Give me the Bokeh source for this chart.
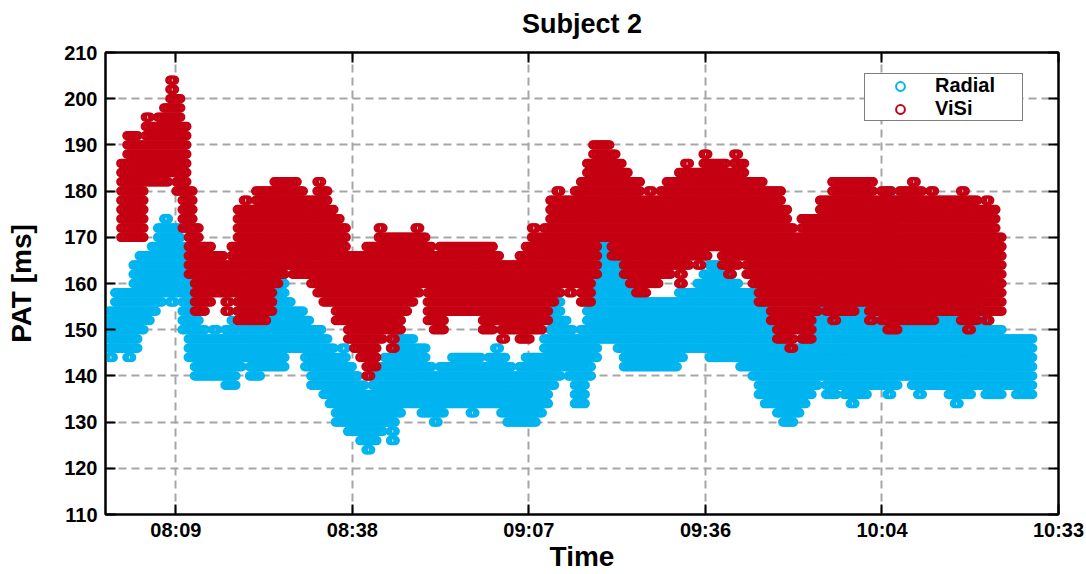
import numpy as np
from bokeh.plotting import figure
from bokeh.models import Range1d, FixedTicker, LinearAxis, Legend, LegendItem, ColumnDataSource
from bokeh.embed import file_html
from bokeh.resources import INLINE

title_text = "Subject 2"
x_label = "Time"
y_label = "PAT [ms]"
series_names = ["Radial", "ViSi"]

# x ticks in seconds since midnight (0.02-day steps) and their labels
x_tick_seconds = [29376, 31104, 32832, 34560, 36288, 38016]
x_tick_labels = ["08:09", "08:38", "09:07", "09:36", "10:04", "10:33"]
y_ticks = [110, 120, 130, 140, 150, 160, 170, 180, 190, 200, 210]

# Radial: per-minute bins (minutes since midnight), lowest / highest PAT seen [ms]
radial_minute = [479, 480, 481, 482, 483, 484, 485, 486, 487, 488, 489, 490, 491, 492, 493, 494, 495, 496, 497, 498,
                 499, 500, 501, 502, 503, 504, 505, 506, 507, 508, 509, 510, 511, 512, 513, 514, 515, 516, 517, 518,
                 519, 520, 521, 522, 523, 524, 525, 526, 527, 528, 529, 530, 531, 532, 533, 534, 535, 536, 537, 538,
                 539, 540, 541, 542, 543, 544, 545, 546, 547, 548, 549, 550, 551, 552, 553, 554, 555, 556, 557, 558,
                 559, 560, 561, 562, 563, 564, 565, 566, 567, 568, 569, 570, 571, 572, 573, 574, 575, 576, 577, 578,
                 579, 580, 581, 582, 583, 584, 585, 586, 587, 588, 589, 590, 591, 592, 593, 594, 595, 596, 597, 598,
                 599, 600, 601, 602, 603, 604, 605, 606, 607, 608, 609, 610, 611, 612, 613, 614, 615, 616, 617, 618,
                 619, 620, 621, 622, 623, 624, 625, 626, 627, 628, 629]
radial_low = [144, 146, 146, 144, 146, 150, 152, 154, 156, 158, 156, 158, 150, 144, 140, 140, 140, 140, 140, 138,
              138, 142, 144, 140, 140, 142, 142, 142, 142, 146, 146, 146, 142, 138, 138, 136, 134, 130, 130, 128,
              128, 126, 124, 126, 128, 130, 126, 132, 134, 134, 134, 132, 132, 130, 132, 134, 134, 134, 134, 132,
              134, 134, 134, 134, 132, 130, 130, 130, 130, 130, 132, 134, 138, 140, 142, 140, 134, 134, 140, 144,
              148, 148, 148, 146, 142, 142, 142, 142, 142, 142, 142, 142, 142, 144, 146, 146, 146, 146, 144, 144,
              144, 144, 144, 142, 142, 140, 136, 134, 134, 132, 130, 130, 132, 134, 136, 138, 140, 136, 136, 138,
              136, 134, 136, 136, 138, 138, 138, 136, 138, 140, 140, 138, 136, 138, 138, 138, 138, 136, 134, 136,
              136, 138, 138, 136, 136, 136, 138, 138, 136, 136, 136]
radial_high = [154, 158, 158, 158, 164, 166, 166, 168, 172, 174, 172, 172, 168, 162, 156, 150, 148, 150, 148, 150,
               152, 156, 158, 160, 160, 160, 160, 162, 164, 156, 154, 154, 152, 150, 150, 148, 146, 144, 146, 142,
               140, 138, 136, 140, 142, 144, 146, 148, 148, 148, 146, 146, 142, 140, 142, 142, 144, 144, 144, 144,
               144, 142, 144, 146, 144, 142, 140, 142, 144, 144, 144, 148, 154, 156, 152, 150, 148, 150, 154, 160,
               168, 168, 166, 164, 160, 158, 156, 156, 156, 156, 156, 156, 156, 158, 158, 158, 160, 162, 164, 164,
               162, 162, 160, 158, 158, 158, 156, 154, 152, 150, 146, 144, 146, 148, 150, 154, 156, 158, 160, 158,
               156, 156, 156, 158, 160, 172, 178, 180, 178, 160, 158, 158, 158, 158, 156, 156, 158, 158, 160, 158,
               156, 156, 156, 152, 150, 150, 148, 148, 148, 148, 148]

# ViSi: per-minute bins, lowest / highest PAT seen [ms]
visi_minute = [481, 482, 483, 484, 485, 486, 487, 488, 489, 490, 491, 492, 493, 494, 495, 496, 497, 498, 499, 500,
               501, 502, 503, 504, 505, 506, 507, 508, 509, 510, 511, 512, 513, 514, 515, 516, 517, 518, 519, 520,
               521, 522, 523, 524, 525, 526, 527, 528, 529, 530, 531, 532, 533, 534, 535, 536, 537, 538, 539, 540,
               541, 542, 543, 544, 545, 546, 547, 548, 549, 550, 551, 552, 553, 554, 555, 556, 557, 558, 559, 560,
               561, 562, 563, 564, 565, 566, 567, 568, 569, 570, 571, 572, 573, 574, 575, 576, 577, 578, 579, 580,
               581, 582, 583, 584, 585, 586, 587, 588, 589, 590, 591, 592, 593, 594, 595, 596, 597, 598, 599, 600,
               601, 602, 603, 604, 605, 606, 607, 608, 609, 610, 611, 612, 613, 614, 615, 616, 617, 618, 619, 620,
               621, 622, 623, 624]
visi_low = [170, 170, 170, 170, 182, 182, 182, 182, 184, 180, 172, 162, 154, 154, 156, 158, 158, 154, 158, 152,
            152, 152, 152, 152, 154, 160, 162, 164, 162, 162, 162, 160, 158, 156, 156, 152, 152, 148, 146, 144,
            140, 142, 148, 150, 146, 150, 154, 156, 158, 160, 152, 150, 150, 154, 154, 154, 154, 154, 154, 150,
            150, 152, 148, 150, 150, 148, 148, 150, 150, 152, 156, 158, 160, 158, 160, 156, 156, 162, 170, 170,
            166, 166, 162, 160, 158, 158, 160, 160, 162, 162, 164, 160, 164, 166, 164, 166, 168, 168, 164, 162,
            164, 166, 162, 160, 156, 156, 152, 148, 148, 146, 150, 148, 148, 154, 156, 154, 152, 154, 154, 154,
            156, 156, 152, 154, 152, 150, 150, 152, 152, 152, 152, 152, 152, 154, 154, 154, 154, 152, 150, 152,
            154, 152, 154, 154]
visi_high = [186, 192, 192, 190, 196, 194, 196, 198, 204, 200, 194, 180, 172, 168, 168, 166, 166, 164, 168, 176,
             178, 176, 180, 180, 180, 182, 182, 182, 182, 180, 178, 178, 182, 180, 176, 174, 172, 166, 166, 166,
             168, 168, 172, 170, 170, 170, 170, 170, 172, 170, 168, 166, 168, 168, 168, 168, 168, 168, 168, 168,
             168, 166, 164, 164, 164, 166, 168, 172, 170, 172, 178, 180, 178, 178, 180, 182, 186, 190, 190, 190,
             188, 186, 184, 182, 182, 178, 180, 178, 180, 182, 182, 184, 186, 184, 184, 188, 186, 186, 186, 184,
             188, 186, 182, 182, 182, 180, 180, 180, 176, 172, 170, 174, 174, 174, 178, 178, 182, 182, 182, 182,
             182, 182, 182, 178, 180, 180, 178, 180, 180, 182, 180, 178, 180, 178, 178, 178, 178, 180, 178, 178,
             176, 178, 176, 170]

# beats inside each one-minute bin are spread over the bin; readings are at 2 ms resolution
bin_offsets_min = [-0.375, -0.125, 0.125, 0.375]


def expand(minutes, lows, highs):
    xs, ys = [], []
    for m, lo, hi in zip(minutes, lows, highs):
        for off in bin_offsets_min:
            for v in range(lo, hi + 1, 2):
                xs.append((m + off) * 60.0)
                ys.append(v)
    return ColumnDataSource(data=dict(x=xs, y=ys))


src_radial = expand(radial_minute, radial_low, radial_high)
src_visi = expand(visi_minute, visi_low, visi_high)

FONT = "Liberation Sans"
BLUE = "#00B4F0"
RED = "#C40012"

p = figure(width=1086, height=574,
           x_range=Range1d(28687, x_tick_seconds[-1]), y_range=Range1d(y_ticks[0], y_ticks[-1]),
           output_backend="svg", toolbar_location=None,
           min_border_left=105, min_border_right=28, min_border_top=52, min_border_bottom=60)

p.outline_line_color = "black"
p.outline_line_width = 2
p.background_fill_color = "white"
p.border_fill_color = "white"

xt = FixedTicker(ticks=x_tick_seconds)
yt = FixedTicker(ticks=y_ticks)
overrides = {t: l for t, l in zip(x_tick_seconds, x_tick_labels)}

for ax in [p.xaxis[0], p.yaxis[0]]:
    ax.axis_line_color = "black"
    ax.axis_line_width = 2
    ax.major_tick_line_color = "black"
    ax.major_tick_line_width = 2
    ax.major_tick_in = 10
    ax.major_tick_out = 0
    ax.minor_tick_line_color = None
    ax.major_label_text_font = FONT
    ax.major_label_text_font_size = "20px"
    ax.major_label_text_font_style = "bold"
    ax.major_label_text_color = "black"
    ax.axis_label_text_font = FONT
    ax.axis_label_text_font_size = "28px"
    ax.axis_label_text_font_style = "bold"
    ax.axis_label_text_color = "black"

p.xaxis[0].ticker = xt
p.xaxis[0].major_label_overrides = overrides
p.xaxis[0].axis_label = x_label
p.xaxis[0].major_label_standoff = 4
p.xaxis[0].axis_label_standoff = -3
p.yaxis[0].ticker = yt
p.yaxis[0].axis_label = y_label
p.yaxis[0].major_label_standoff = 8
p.yaxis[0].axis_label_standoff = 24

# top axis carries the chart title as its label (box-style frame with inner ticks)
top_axis = LinearAxis(ticker=xt, major_label_text_font_size="1px", major_label_text_color=None,
                      major_label_standoff=0,
                      axis_label=title_text, axis_label_standoff=14,
                      axis_label_text_font=FONT, axis_label_text_font_size="27px",
                      axis_label_text_font_style="bold", axis_label_text_color="black",
                      axis_label_text_line_height=0.8,
                      axis_line_color="black", axis_line_width=2, major_tick_line_width=2,
                      major_tick_in=10, major_tick_out=0, minor_tick_line_color=None)
right_axis = LinearAxis(ticker=yt, major_label_text_font_size="1px", major_label_text_color=None,
                        major_label_standoff=0,
                        axis_line_color="black", axis_line_width=2, major_tick_line_width=2,
                        major_tick_in=10, major_tick_out=0, minor_tick_line_color=None)
p.add_layout(top_axis, "above")
p.add_layout(right_axis, "right")

for g in [p.xgrid[0], p.ygrid[0]]:
    g.grid_line_color = "#a6a6a6"
    g.grid_line_width = 2
    g.grid_line_dash = "8 5"
p.xgrid[0].ticker = xt
p.ygrid[0].ticker = yt

r1 = p.scatter("x", "y", source=src_radial, marker="circle", size=7.5,
               fill_color=None, line_color=BLUE, line_width=2)
r2 = p.scatter("x", "y", source=src_visi, marker="circle", size=7.5,
               fill_color=None, line_color=RED, line_width=2)

legend = Legend(items=[LegendItem(label=series_names[0], renderers=[r1]),
                       LegendItem(label=series_names[1], renderers=[r2])],
                location=(759, 393), margin=0, padding=0, spacing=0,
                glyph_width=70, glyph_height=22, label_height=22, label_width=87, label_standoff=0,
                label_text_font=FONT, label_text_font_size="20px", label_text_font_style="bold",
                label_text_color="black",
                border_line_color="black", border_line_width=1.5,
                background_fill_color="white", background_fill_alpha=1.0)
p.add_layout(legend)

open("out.html", "w").write(file_html(p, INLINE))
